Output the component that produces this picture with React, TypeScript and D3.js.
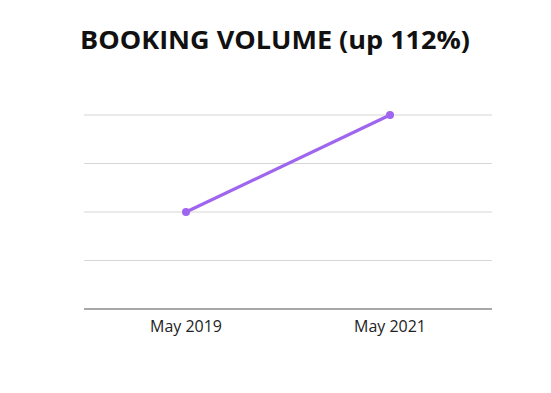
import * as d3 from 'd3'
import { useRef, useEffect } from 'react'

const periods = ['May 2019', 'May 2021']
const bookings = [2, 4]
const yTicks = [0, 1, 2, 3, 4]
const title = 'BOOKING VOLUME (up 112%)'

export default function App() {
  const ref = useRef<SVGSVGElement>(null)
  const width = 551
  const height = 393

  useEffect(() => {
    const svg = d3.select(ref.current)
    svg.selectAll('*').remove()

    const x = d3.scalePoint<string>()
      .domain(periods)
      .range([84, 492])
      .padding(0.5)
    const y = d3.scaleLinear()
      .domain([0, 4])
      .range([309, 115])

    // gridlines
    svg.append('g')
      .selectAll('line')
      .data(yTicks)
      .join('line')
      .attr('x1', 84)
      .attr('x2', 492)
      .attr('y1', d => y(d))
      .attr('y2', d => y(d))
      .attr('stroke', d => d === 0 ? '#8a8a8a' : '#d6d6d6')
      .attr('stroke-width', d => d === 0 ? 1.3 : 1.2)

    // x labels
    svg.append('g')
      .selectAll('text')
      .data(periods)
      .join('text')
      .attr('x', d => x(d)!)
      .attr('y', 332)
      .attr('text-anchor', 'middle')
      .attr('font-family', 'Open Sans, sans-serif')
      .attr('font-size', 15.5)
      .attr('fill', '#222')
      .attr('textLength', 72)
      .attr('lengthAdjust', 'spacingAndGlyphs')
      .text(d => d)

    const pts = periods.map((p, i) => ({ p, v: bookings[i] }))
    const line = d3.line<{ p: string; v: number }>()
      .x(d => x(d.p)!)
      .y(d => y(d.v))

    svg.append('path')
      .datum(pts)
      .attr('fill', 'none')
      .attr('stroke', '#9f65ee')
      .attr('stroke-width', 3.2)
      .attr('d', line)

    svg.append('g')
      .selectAll('circle')
      .data(pts)
      .join('circle')
      .attr('cx', d => x(d.p)!)
      .attr('cy', d => y(d.v))
      .attr('r', 4)
      .attr('fill', '#9f65ee')

    svg.append('text')
      .attr('x', 275)
      .attr('y', 49)
      .attr('text-anchor', 'middle')
      .attr('font-family', 'Open Sans, sans-serif')
      .attr('font-weight', 700)
      .attr('font-size', 25)
      .attr('fill', '#111')
      .attr('textLength', 390)
      .attr('lengthAdjust', 'spacingAndGlyphs')
      .text(title)
  }, [])

  return (
    <svg ref={ref} width={width} height={height}
      style={{ position: 'absolute', left: 0, top: 0, background: '#fff' }} />
  )
}
